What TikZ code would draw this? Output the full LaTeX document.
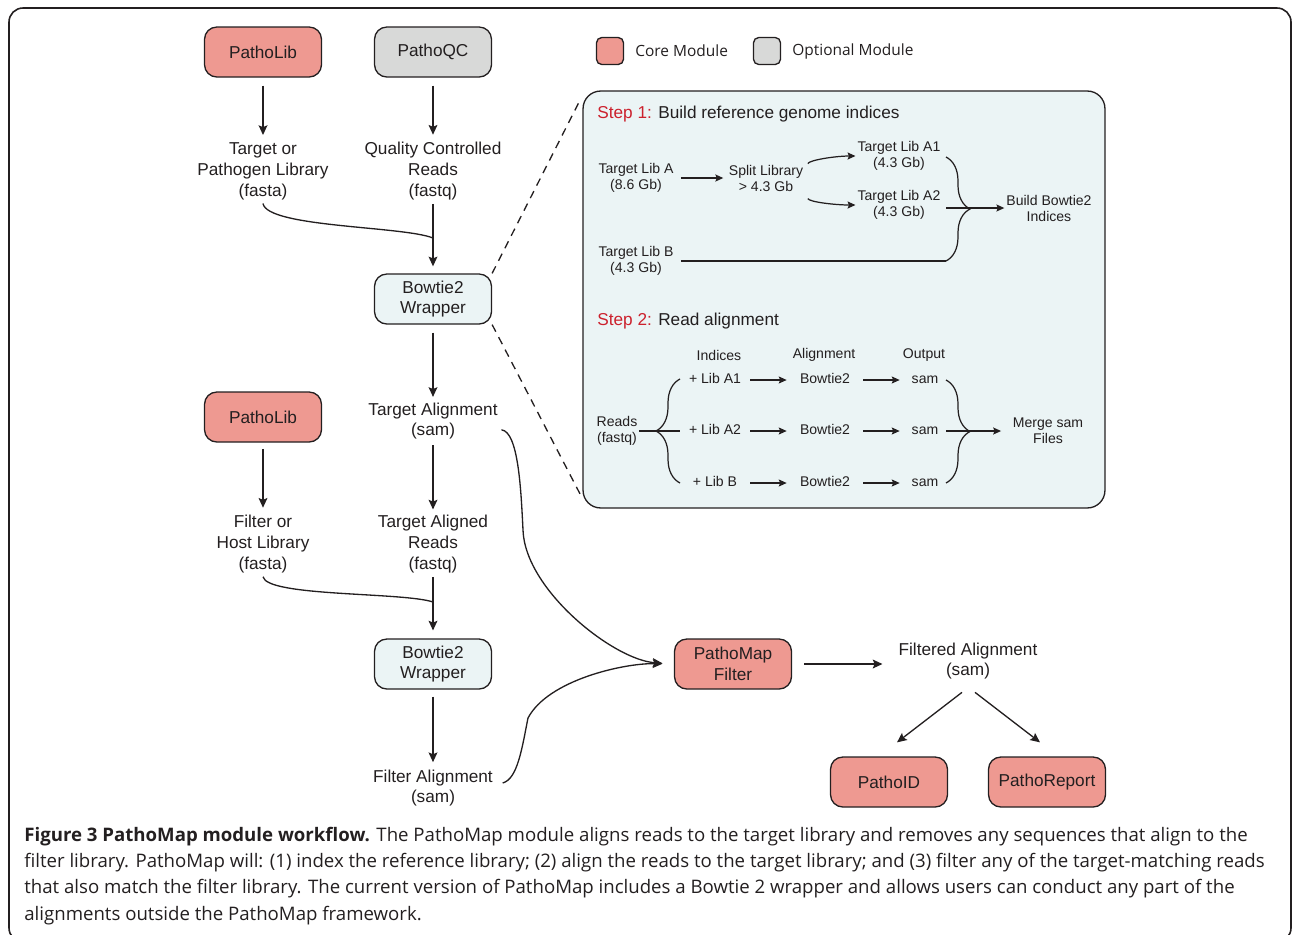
\documentclass[tikz,border=0pt]{standalone}
\usepackage{fontspec}
\setmainfont{Liberation Sans}
\newfontfamily\captionfont{Open Sans}
\usetikzlibrary{positioning,arrows.meta,decorations.pathreplacing,calc}

\definecolor{corered}{RGB}{238,153,145}
\definecolor{optgray}{RGB}{216,217,216}
\definecolor{paleblue}{RGB}{235,244,245}
\definecolor{stepred}{RGB}{204,33,45}
\definecolor{ink}{RGB}{35,31,32}

\begin{document}
\begin{tikzpicture}[
    x=0.02cm, y=-0.02cm,
    color=ink,
    font=\fontsize{9.8}{11.9}\selectfont,
    module/.style={draw=ink, line width=0.75pt, rounded corners=7pt,
        minimum width=2.34cm, minimum height=1cm, align=center, inner sep=1pt},
    core/.style={module, fill=corered},
    optional/.style={module, fill=optgray},
    wrapper/.style={module, fill=paleblue},
    data/.style={align=center, inner sep=2pt},
    small/.style={align=center, inner sep=1pt, font=\fontsize{8}{9.1}\selectfont},
    cell/.style={small, text height=6pt, text depth=1.7pt},
    arr/.style={-{Stealth[length=5.5pt, width=5pt, inset=1pt]}, line width=0.75pt},
    sarr/.style={-{Stealth[length=4.5pt, width=4pt, inset=0.8pt]}, line width=0.7pt},
    link/.style={line width=0.75pt},
    bracket/.style={line width=0.7pt, decorate, decoration={brace, amplitude=#1}},
]
% page and outer frame
\useasboundingbox (0,0) rectangle (1292,934);
\draw[line width=0.9pt, rounded corners=8pt] (9,8) rectangle (1291,942);

% legend
\node[core, minimum width=0.54cm, minimum height=0.54cm, rounded corners=3pt] (keycore) at (610,51) {};
\node[anchor=west, inner sep=0, font=\captionfont\fontsize{8.8}{10}\selectfont] (keycoretxt) at (635,51) {Core Module};
\node[optional, minimum width=0.54cm, minimum height=0.54cm, rounded corners=3pt] (keyopt) at (767,51) {};
\node[anchor=west, inner sep=0, font=\captionfont\fontsize{8.8}{10}\selectfont] (keyopttxt) at (792,51) {Optional Module};

% modules
\node[core] (plib) at (263,52) {PathoLib};
\node[optional] (pqc) at (433,52) {PathoQC};
\node[wrapper] (wrapa) at (433,299) {Bowtie2\\Wrapper};
\node[core] (plibh) at (263,417) {PathoLib};
\node[wrapper] (wrapb) at (433,664) {Bowtie2\\Wrapper};
\node[core] (pmf) at (733,664) {PathoMap\\Filter};
\node[core] (pid) at (889,782) {PathoID};
\node[core] (prep) at (1047,782) {PathoReport};

% data between the modules
\node[data] (tlib) at (263,171) {Target or\\Pathogen Library\\(fasta)};
\node[data] (qcreads) at (433,171) {Quality Controlled\\Reads\\(fastq)};
\node[data] (talign) at (433,421) {Target Alignment\\(sam)};
\node[data] (treads) at (433,544) {Target Aligned\\Reads\\(fastq)};
\node[data] (hlib) at (263,544) {Filter or\\Host Library\\(fasta)};
\node[data] (falign) at (433,788) {Filter Alignment\\(sam)};
\node[data] (filt) at (968,661) {Filtered Alignment\\(sam)};

% main flow
\draw[arr, shorten <=4.5pt, shorten >=2pt] (plib) -- (tlib);
\draw[arr, shorten <=4.5pt, shorten >=2pt] (pqc) -- (qcreads);
\draw[arr, shorten >=4pt] (qcreads) -- (wrapa);
\coordinate (ja) at (433,238);
\draw[link] (tlib.south) .. controls +(4,24) and +(-30,-12) .. (ja);
\draw[arr, shorten <=4.5pt, shorten >=1pt] (wrapa) -- (talign);
\draw[arr, shorten <=1pt, shorten >=1pt] (talign) -- (treads);
\draw[arr, shorten <=3.5pt, shorten >=2pt] (plibh) -- (hlib);
\draw[arr, shorten >=4.5pt] (treads) -- (wrapb);
\coordinate (jb) at (433,602);
\draw[link] (hlib.south) .. controls +(4,20) and +(-30,-10) .. (jb);
\draw[arr, shorten <=4pt, shorten >=2pt] (wrapb) -- (falign);

% into the filter
\coordinate (tc) at (523,530);
\draw[arr, shorten >=6.5pt] ([yshift=-5pt]talign.east) .. controls +(17,2) and +(-2,-40) .. (tc)
    .. controls +(2,60) and +(-60,-4) .. (pmf.west);
\coordinate (fc) at (528,718);
\draw[arr, shorten >=6.5pt] ([shift={(6,-5)}]falign.east) .. controls +(15,-4) and +(-6,30) .. (fc)
    .. controls +(20,-38) and +(-50,-1) .. (pmf.west);
\draw[arr, shorten <=7pt, shorten >=7pt] (pmf.east) -- (pmf.east -| filt.west);
\draw[arr] ([shift={(-6,9)}]filt.south) -- ([shift={(8,-14)}]pid.north);
\draw[arr] ([shift={(7,9)}]filt.south) -- ([shift={(-7,-14)}]prep.north);

% zoomed panel
\node[draw=ink, line width=0.75pt, fill=paleblue, rounded corners=10pt,
    minimum width=10.44cm, minimum height=8.34cm] (inset) at (844,299.5) {};
\draw[link, dash pattern=on 4.5pt off 3.5pt] (wrapa.north east) -- ($(inset.north west)+(-2,9)$);
\draw[link, dash pattern=on 4.5pt off 3.5pt] (wrapa.south east) -- ($(inset.south west)+(-2,-14)$);

% Step 1
\node[anchor=base west, inner sep=0] (stepone) at (597,118) {\textcolor{stepred}{Step 1:} Build reference genome indices};
\node[small] (libA) at (636,178) {Target Lib A\\(8.6 Gb)};
\node[small] (split) at (766,178) {Split Library\\> 4.3 Gb};
\node[small] (libAa) at (899,156) {Target Lib A1\\(4.3 Gb)};
\node[small] (libAb) at (899,205) {Target Lib A2\\(4.3 Gb)};
\node[small] (libB) at (636,261) {Target Lib B\\(4.3 Gb)};
\node[small] (build) at (1049,208) {Build Bowtie2\\Indices};
\draw[sarr, shorten <=3pt, shorten >=2pt] (libA) -- (split);
\draw[sarr, shorten <=4pt] ([yshift=4.5pt]split.east) .. controls +(4,-10) and +(-20,0) .. (libAa.west);
\draw[sarr, shorten <=4pt] ([yshift=-8pt]split.east) .. controls +(4,10) and +(-20,0) .. (libAb.west);
\coordinate (ba1) at (946,157);
\coordinate (bb1) at (946,261);
\draw[bracket=0.48cm] (ba1) -- (bb1);
\draw[link, shorten <=3pt] (libB) -- (bb1);
\draw[sarr] (ba1 |- build.west) -- (build.west);

% Step 2
\node[anchor=base west, inner sep=0] (steptwo) at (597,325) {\textcolor{stepred}{Step 2:} Read alignment};
\node[small] (hidx) at (719,355) {Indices};
\node[small] (haln) at (824,355) {Alignment};
\node[small] (hout) at (924,355) {Output};
\foreach \r/\yy/\lib in {1/380/A1, 2/431/A2, 3/483/B} {
    \node[cell, minimum width=1.4cm] (idx\r) at (715,\yy) {+ Lib \lib};
    \node[cell, minimum width=1.52cm] (aln\r) at (825,\yy) {Bowtie2};
    \node[cell, minimum width=1cm] (out\r) at (925,\yy) {sam};
    \draw[sarr] (idx\r) -- (aln\r);
    \draw[sarr] (aln\r) -- (out\r);
}
\node[small] (reads) at (617,431) {Reads\\(fastq)};
\node[small] (merge) at (1048,431) {Merge sam\\Files};
\coordinate (ba2) at (680,483);
\coordinate (bb2) at (680,379);
\draw[bracket=0.48cm] (ba2) -- (bb2);
\draw[link] (reads) -- (idx2);
\coordinate (ca2) at (946,380);
\coordinate (cb2) at (946,483);
\draw[bracket=0.48cm] (ca2) -- (cb2);
\draw[sarr, shorten >=5.5pt] (ca2 |- merge.west) -- (merge.west);

% caption
\node[anchor=north west, inner sep=0, align=left, font=\captionfont\fontsize{10.6}{14.9}\selectfont] (caption) at (24,827)
    {\textbf{Figure 3 PathoMap module workflow.} The PathoMap module aligns reads to the target library and removes any sequences that align to the\\
    filter library. PathoMap will: (1) index the reference library; (2) align the reads to the target library; and (3) filter any of the target-matching reads\\
    that also match the filter library. The current version of PathoMap includes a Bowtie 2 wrapper and allows users can conduct any part of the\\
    alignments outside the PathoMap framework.};
\end{tikzpicture}
\end{document}
